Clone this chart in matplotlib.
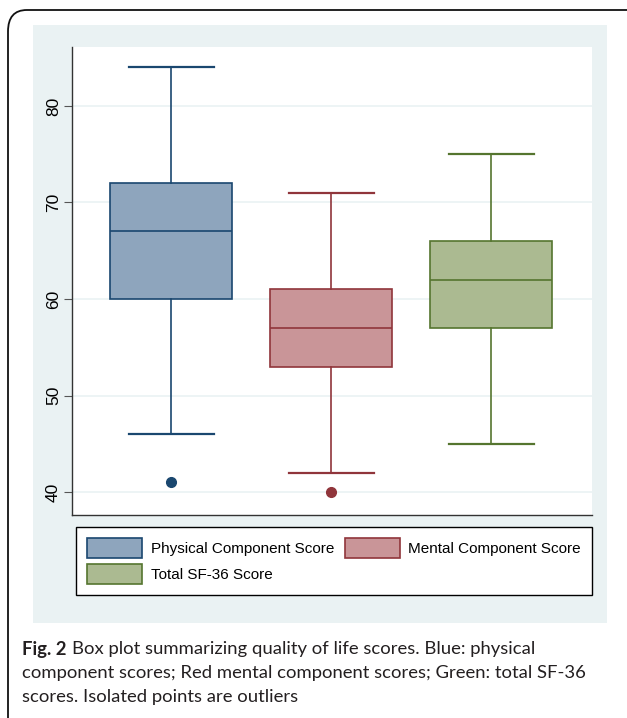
#!/usr/bin/env python3
import matplotlib
matplotlib.use('Agg')
import matplotlib.pyplot as plt
from matplotlib.patches import Patch, FancyBboxPatch, Rectangle

# box plot summaries
groups = ['Physical Component Score', 'Mental Component Score', 'Total SF-36 Score']
whislo = [46, 42, 45]
q1 = [60, 53, 57]
med = [67, 57, 62]
q3 = [72, 61, 66]
whishi = [84, 71, 75]
fliers = [[41], [40], []]
yticks = [40, 50, 60, 70, 80]

face_colors = ['#8ea5bd', '#c99598', '#abba91']
edge_colors = ['#1a476f', '#90353b', '#55752f']

W, H = 627, 718
fig = plt.figure(figsize=(W / 100, H / 100), dpi=100)

def fx(px):
    return px / W

def fy(py):
    return 1 - py / H

# outer rounded frame (clipped at right / bottom)
frame = FancyBboxPatch((fx(8), fy(740)), fx(650) - fx(8), fy(10) - fy(740),
                       boxstyle='round,pad=0,rounding_size=0.03',
                       transform=fig.transFigure, fill=False,
                       edgecolor='#111111', linewidth=1.3, zorder=-4)
fig.patches.append(frame)

# graph region background
bg = Rectangle((fx(33), fy(623)), fx(607) - fx(33), fy(25) - fy(623),
               transform=fig.transFigure, facecolor='#eaf2f3', edgecolor='none', zorder=-5)
fig.patches.append(bg)

ax = fig.add_axes([fx(72), fy(515), fx(592) - fx(72), fy(47) - fy(515)])
ax.set_facecolor('white')

stats = []
for i, name in enumerate(groups):
    stats.append({'label': name, 'whislo': whislo[i], 'q1': q1[i], 'med': med[i],
                  'q3': q3[i], 'whishi': whishi[i], 'fliers': fliers[i]})

positions = [1, 2, 3]
bp = ax.bxp(stats, positions=positions, widths=0.76, patch_artist=True,
            showcaps=True, capwidths=0.53)
for i in range(3):
    bp['boxes'][i].set_facecolor(face_colors[i])
    bp['boxes'][i].set_edgecolor(edge_colors[i])
    bp['boxes'][i].set_linewidth(1.2)
    bp['medians'][i].set_color(edge_colors[i])
    bp['medians'][i].set_linewidth(1.2)
    for j in (2 * i, 2 * i + 1):
        bp['whiskers'][j].set_color(edge_colors[i])
        bp['whiskers'][j].set_linewidth(1.2)
        bp['caps'][j].set_color(edge_colors[i])
        bp['caps'][j].set_linewidth(1.6)
    bp['fliers'][i].set_marker('o')
    bp['fliers'][i].set_markerfacecolor(edge_colors[i])
    bp['fliers'][i].set_markeredgecolor(edge_colors[i])
    bp['fliers'][i].set_markersize(7)

ax.set_xlim(0.38, 3.63)
ax.set_ylim(37.62, 86.11)
ax.set_xticks([])
ax.set_yticks(yticks)
ax.set_yticklabels([str(t) for t in yticks], rotation=90, va='center',
                   fontsize=12.5, family=['Liberation Sans', 'DejaVu Sans'])
ax.tick_params(axis='y', length=6, width=0.8, color='#555555', pad=2)
ax.yaxis.grid(True, color='#eaf2f3', linewidth=1.2)
ax.set_axisbelow(True)
for s in ('top', 'right'):
    ax.spines[s].set_visible(False)
for s in ('left', 'bottom'):
    ax.spines[s].set_color('#333333')
    ax.spines[s].set_linewidth(1.0)

# legend entries ordered so columns fill as in the original (row-wise reading)
handles = [Patch(facecolor=face_colors[i], edgecolor=edge_colors[i], linewidth=1.2,
                 label=groups[i]) for i in (0, 2, 1)]
leg = fig.legend(handles=handles, ncol=2, loc='lower left',
                 bbox_to_anchor=(fx(76), fy(595), fx(592) - fx(76), fy(527) - fy(595)),
                 mode='expand', fancybox=False, frameon=True, edgecolor='black',
                 facecolor='white', framealpha=1,
                 handlelength=3.6, handleheight=1.55, handletextpad=0.55,
                 borderpad=0.75, labelspacing=0.45, borderaxespad=0,
                 prop={'family': ['Liberation Sans Narrow', 'Liberation Sans'], 'size': 11})
leg.get_frame().set_linewidth(1.0)

cap_font = ['Lato', 'DejaVu Sans']
cap_col = '#231f20'
cap_size = 13.3
t1 = fig.text(fx(22), fy(649), 'Fig. 2', fontsize=cap_size, fontweight='bold',
              family=cap_font, color=cap_col, va='center')
fig.canvas.draw()
bb = t1.get_window_extent()
fig.text(bb.x1 / W + fx(5), fy(649),
         'Box plot summarizing quality of life scores. Blue: physical',
         fontsize=cap_size, family=cap_font, color=cap_col, va='center')
fig.text(fx(22), fy(673), 'component scores; Red mental component scores; Green: total SF-36',
         fontsize=cap_size, family=cap_font, color=cap_col, va='center')
fig.text(fx(22), fy(697), 'scores. Isolated points are outliers',
         fontsize=cap_size, family=cap_font, color=cap_col, va='center')

fig.savefig('out.png', dpi=100)
